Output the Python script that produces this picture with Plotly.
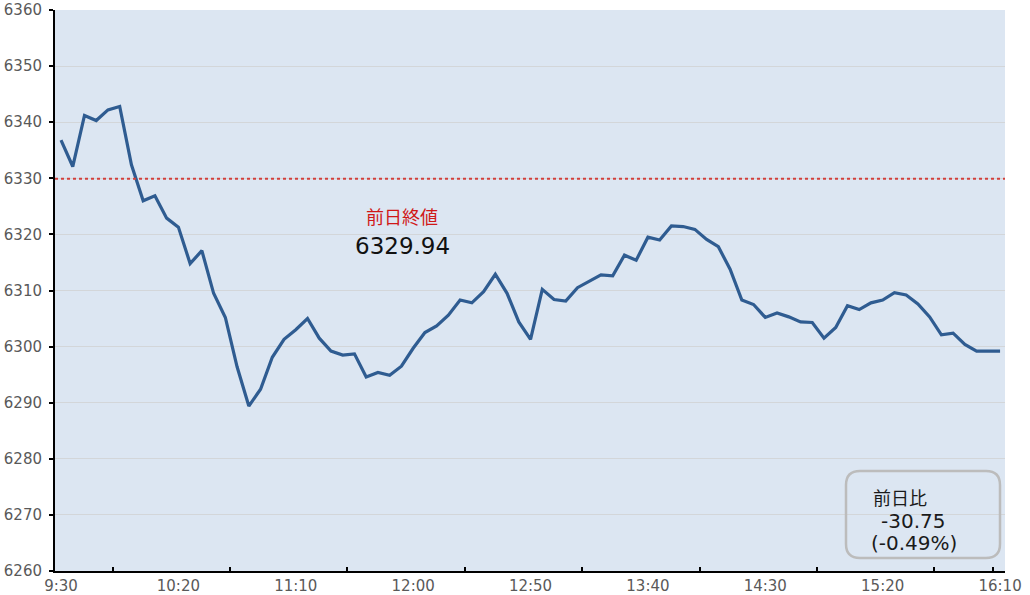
import plotly.graph_objects as go

times = [
    "9:30", "9:35", "9:40", "9:45", "9:50", "9:55", "10:00", "10:05", "10:10", "10:15",
    "10:20", "10:25", "10:30", "10:35", "10:40", "10:45", "10:50", "10:55", "11:00", "11:05",
    "11:10", "11:15", "11:20", "11:25", "11:30", "11:35", "11:40", "11:45", "11:50", "11:55",
    "12:00", "12:05", "12:10", "12:15", "12:20", "12:25", "12:30", "12:35", "12:40", "12:45",
    "12:50", "12:55", "13:00", "13:05", "13:10", "13:15", "13:20", "13:25", "13:30", "13:35",
    "13:40", "13:45", "13:50", "13:55", "14:00", "14:05", "14:10", "14:15", "14:20", "14:25",
    "14:30", "14:35", "14:40", "14:45", "14:50", "14:55", "15:00", "15:05", "15:10", "15:15",
    "15:20", "15:25", "15:30", "15:35", "15:40", "15:45", "15:50", "15:55", "16:00", "16:05",
    "16:10",
]

prices = [
    6336.8, 6332.1, 6341.2, 6340.3, 6342.2, 6342.8, 6332.4, 6326.0, 6326.9, 6322.9,
    6321.3, 6314.8, 6317.1, 6309.5, 6305.2, 6296.4, 6289.4, 6292.4, 6298.1, 6301.3,
    6303.0, 6305.0, 6301.5, 6299.2, 6298.5, 6298.7, 6294.6, 6295.4, 6294.9, 6296.5,
    6299.7, 6302.5, 6303.7, 6305.6, 6308.3, 6307.8, 6309.8, 6312.9, 6309.5, 6304.4,
    6301.3, 6310.2, 6308.4, 6308.1, 6310.5, 6311.6, 6312.8, 6312.6, 6316.3, 6315.4,
    6319.5, 6319.0, 6321.5, 6321.4, 6320.9, 6319.1, 6317.8, 6313.8, 6308.3, 6307.5,
    6305.2, 6306.0, 6305.3, 6304.4, 6304.3, 6301.5, 6303.4, 6307.3, 6306.6, 6307.8,
    6308.3, 6309.6, 6309.2, 6307.6, 6305.3, 6302.1, 6302.4, 6300.4, 6299.2, 6299.19,
    6299.19,
]

tick_labels = ["9:30", "10:20", "11:10", "12:00", "12:50", "13:40", "14:30", "15:20", "16:10"]
tick_marks = ["9:52", "10:42", "11:32", "12:22", "13:12", "14:02", "14:52", "15:42", "16:07"]

prev_close = 6329.94
prev_close_label = "前日終値"
change_label = "前日比"
change_text = "-30.75"
change_pct_text = "(-0.49%)"

y_min, y_max, y_step = 6260, 6360, 10

FONT = "DejaVu Sans, Noto Sans CJK JP"
CJK = "Noto Sans CJK JP"

# plot-area geometry (pixels) used to place the annotation box
L, R, T, B = 55, 25, 10, 24
W, H = 1030, 595
PW, PH = W - L - R, H - T - B


def px(xp):
    return (xp - L) / PW


def py(yp):
    return (H - B - yp) / PH


def to_min(t):
    h, m = t.split(":")
    return (int(h) - 9) * 60 + int(m) - 30


x = [to_min(t) for t in times]

fig = go.Figure()
fig.add_trace(go.Scatter(
    x=x, y=prices, mode="lines",
    line=dict(color="#2f5c91", width=3.2),
    hoverinfo="skip", showlegend=False,
))

fig.add_shape(type="line", xref="paper", x0=0, x1=1, yref="y", y0=prev_close, y1=prev_close,
              line=dict(color="#d2403c", width=2, dash="dot"), layer="above")

fig.add_annotation(xref="paper", yref="paper", x=px(402), y=py(216), text=prev_close_label,
                   showarrow=False, font=dict(family=CJK, size=18, color="#d01818"))
fig.add_annotation(xref="paper", yref="paper", x=px(402), y=py(246), text=f"{prev_close:.2f}",
                   showarrow=False, font=dict(family=FONT, size=23, color="#111111"))

# rounded box
x0, x1, y0, y1 = px(846), px(1000), py(558), py(471)
rx, ry = 14 / PW, 14 / PH
path = (f"M {x0+rx},{y0} L {x1-rx},{y0} Q {x1},{y0} {x1},{y0+ry} "
        f"L {x1},{y1-ry} Q {x1},{y1} {x1-rx},{y1} L {x0+rx},{y1} "
        f"Q {x0},{y1} {x0},{y1-ry} L {x0},{y0+ry} Q {x0},{y0} {x0+rx},{y0} Z")
fig.add_shape(type="path", xref="paper", yref="paper", path=path,
              line=dict(color="#bcbcbc", width=2.5), fillcolor="rgba(0,0,0,0)", layer="above")
for txt, xl, yc, fam, sz in [
    (change_label, 871, 497, CJK, 18),
    (change_text, 879, 521, FONT, 20),
    (change_pct_text, 869, 543, FONT, 20),
]:
    fig.add_annotation(xref="paper", yref="paper", x=px(xl), y=py(yc),
                       xanchor="left", yanchor="middle", showarrow=False, text=txt,
                       font=dict(family=fam, size=sz, color="#1a1a1a"))

fig.update_layout(
    width=W, height=H,
    margin=dict(l=L, r=R, t=T, b=B, autoexpand=False),
    paper_bgcolor="white", plot_bgcolor="#dce6f2",
    font=dict(family=FONT, color="#595959", size=15),
    xaxis=dict(
        range=[-2.56, 402.1], showgrid=False, zeroline=False, automargin=False,
        showline=True, linecolor="black", linewidth=2,
        tickmode="array", tickvals=[to_min(t) for t in tick_labels], ticktext=tick_labels,
        ticks="", tickfont=dict(size=15, color="#595959"),
        minor=dict(tickmode="array", tickvals=[to_min(t) for t in tick_marks],
                   ticks="inside", ticklen=4, tickwidth=2, tickcolor="black", showgrid=False),
    ),
    yaxis=dict(
        range=[y_min, y_max], dtick=y_step, tick0=y_min, automargin=False,
        showgrid=True, gridcolor="#d3d6d9", gridwidth=1, zeroline=False,
        showline=True, linecolor="black", linewidth=2,
        ticks="outside", ticklen=4, tickwidth=2, tickcolor="black",
        tickfont=dict(size=15, color="#595959"), ticklabelstandoff=4,
    ),
)

fig.write_html(
    "out.html",
    config={"displayModeBar": False, "staticPlot": True},
    post_script="document.body.style.margin='0';document.body.style.overflow='hidden';",
)
